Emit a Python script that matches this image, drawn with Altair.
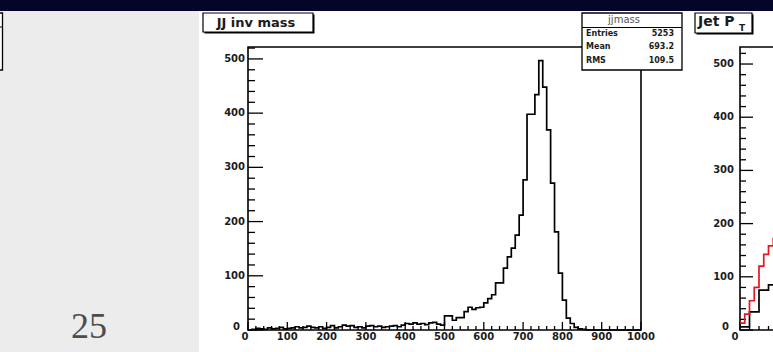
import altair as alt
import pandas as pd

# ---------------- data ----------------
# JJ invariant mass: 100 bins of width 10 on [0, 1000]
MASS_BIN = 10
mass_counts = [
    0, 1, 3, 2, 1, 4, 2, 3, 5, 2,
    3, 4, 6, 4, 5, 7, 5, 4, 6, 3,
    5, 8, 4, 6, 9, 7, 8, 5, 6, 4,
    7, 8, 6, 7, 5, 6, 7, 8, 6, 9,
    12, 11, 13, 11, 12, 10, 13, 14, 11, 9,
    26, 26, 18, 23, 23, 34, 42, 38, 41, 42,
    50, 58, 65, 87, 87, 114, 135, 151, 175, 212,
    277, 398, 398, 434, 497, 448, 369, 271, 181, 105,
    55, 22, 12, 5, 2, 1, 0, 0, 0, 0,
    0, 0, 0, 0, 0, 0, 0, 0, 0, 0,
]
mass_x_labels = [0, 100, 200, 300, 400, 500, 600, 700, 800, 900, 1000]
mass_y_labels = [0, 100, 200, 300, 400, 500]
MASS_XMAX = 1000
MASS_YMAX = 522

hist_name = "jjmass"
stat_names = ["Entries", "Mean", "RMS"]
stat_values = ["5253", "693.2", "109.5"]

# Jet pT: first bins of the two overlaid histograms
PT_RED_BIN = 5
PT_BLACK_BIN = 10
pt_red = [13, 30, 55, 80, 120, 142, 158, 172]
pt_black = [6, 34, 75, 85]
pt_x_labels = [0]
pt_y_labels = [0, 100, 200, 300, 400, 500]
PT_XMAX = 400
PT_YMAX = 532

slide_number = "25"

# ---------------- helpers ----------------
FONT = "DejaVu Sans"
INK = "#1c1c1c"
one = pd.DataFrame({"k": [0]})


def step_table(counts, width):
    xs = [i * width for i in range(len(counts))] + [len(counts) * width]
    ys = list(counts) + [counts[-1]]
    return pd.DataFrame({"edge": xs, "count": ys})


def rect(x0, x1, y0, y1, **kw):
    return alt.Chart(one).mark_rect(**kw).encode(
        x=alt.value(x0), x2=alt.value(x1), y=alt.value(y0), y2=alt.value(y1)
    )


def text(t, x, y, **kw):
    kw.setdefault("font", FONT)
    kw.setdefault("color", INK)
    return alt.Chart(one).mark_text(text=t, **kw).encode(x=alt.value(x), y=alt.value(y))


def hline(x0, x1, y, **kw):
    return alt.Chart(one).mark_rule(**kw).encode(
        x=alt.value(x0), x2=alt.value(x1), y=alt.value(y)
    )


label_style = dict(font=FONT, fontSize=10, fontWeight="bold", color=INK, baseline="middle")


def panel(xscale, yscale, x0px, tables, colors, ymax, xmax, x_labels, y_labels,
          ylab_right, x_minor, x_major, ytick=(15, 7), xtick=(8, 4),
          zero_y=(-5, -3), zero_x=-3):
    frame = alt.Chart(one).mark_rect(fillOpacity=0, stroke="black", strokeWidth=1.6).encode(
        x=alt.XDatum(0, scale=xscale, axis=None),
        x2=alt.X2Datum(xmax),
        y=alt.YDatum(0, scale=yscale, axis=None),
        y2=alt.Y2Datum(ymax),
    )
    yt = pd.DataFrame({"v": list(range(0, int(ymax) + 1, 20))})
    yt["major"] = yt["v"] % 100 == 0
    xt = pd.DataFrame({"v": list(range(0, int(xmax) + 1, x_minor))})
    xt["major"] = xt["v"] % x_major == 0

    layers = [frame]
    # inward ticks on both axes
    for is_major, length in [(True, ytick[0]), (False, ytick[1])]:
        layers.append(
            alt.Chart(yt[yt["major"] == is_major]).mark_rule(color="black", strokeWidth=1.3, clip=True).encode(
                y=alt.Y("v:Q", scale=yscale, axis=None),
                x=alt.value(x0px), x2=alt.value(x0px + length),
            )
        )
    for is_major, length in [(True, xtick[0]), (False, xtick[1])]:
        layers.append(
            alt.Chart(xt[xt["major"] == is_major]).mark_rule(color="black", strokeWidth=1.3, clip=True).encode(
                x=alt.X("v:Q", scale=xscale, axis=None),
                y=alt.value(330), y2=alt.value(330 - length),
            )
        )
    # tick labels; the two zeros sit apart at the corner
    ylab = pd.DataFrame({"v": [v for v in y_labels if v != 0]})
    layers.append(
        alt.Chart(ylab).mark_text(align="right", **label_style).encode(
            y=alt.Y("v:Q", scale=yscale, axis=None), x=alt.value(ylab_right), text="v:Q"
        )
    )
    layers.append(
        alt.Chart(pd.DataFrame({"v": [0]})).mark_text(
            align="right", dx=zero_y[0], dy=zero_y[1], **label_style
        ).encode(
            y=alt.Y("v:Q", scale=yscale, axis=None), x=alt.value(ylab_right), text="v:Q"
        )
    )
    xlab = pd.DataFrame({"v": [v for v in x_labels if v != 0]})
    if len(xlab):
        layers.append(
            alt.Chart(xlab).mark_text(align="center", **label_style).encode(
                x=alt.X("v:Q", scale=xscale, axis=None), y=alt.value(337), text="v:Q"
            )
        )
    layers.append(
        alt.Chart(pd.DataFrame({"v": [0]})).mark_text(align="center", dx=zero_x, **label_style).encode(
            x=alt.X("v:Q", scale=xscale, axis=None), y=alt.value(337), text="v:Q"
        )
    )
    for tbl, col in zip(tables, colors):
        layers.append(
            alt.Chart(tbl).mark_line(interpolate="step-after", color=col, strokeWidth=1.7, clip=True).encode(
                x=alt.X("edge:Q", scale=xscale, axis=None),
                y=alt.Y("count:Q", scale=yscale, axis=None),
            )
        )
    return alt.layer(*layers)


# ---------------- JJ invariant mass panel ----------------
XM = alt.Scale(domain=[0, MASS_XMAX], range=[248, 641], nice=False, zero=False)
YM = alt.Scale(domain=[0, MASS_YMAX], range=[330, 47], nice=False, zero=False)
mass_panel = panel(XM, YM, 248, [step_table(mass_counts, MASS_BIN)], ["black"],
                   MASS_YMAX, MASS_XMAX, mass_x_labels, mass_y_labels, ylab_right=245,
                   x_minor=20, x_major=100)

# ---------------- Jet pT panel ----------------
XP = alt.Scale(domain=[0, PT_XMAX], range=[740, 1120], nice=False, zero=False)
YP = alt.Scale(domain=[0, PT_YMAX], range=[330, 47], nice=False, zero=False)
pt_panel = panel(XP, YP, 740,
                 [step_table(pt_black, PT_BLACK_BIN), step_table(pt_red, PT_RED_BIN)],
                 ["black", "#e3171f"],
                 PT_YMAX, PT_XMAX, pt_x_labels, pt_y_labels, ylab_right=734,
                 x_minor=10, x_major=50, ytick=(13, 6), zero_y=(-5, -3), zero_x=-5)

# ---------------- page decoration ----------------
background = [
    rect(0, 199, 11, 352, color="#ececec"),
    rect(0, 773, 0, 11, color="#03052b"),
    rect(-4, 2.5, 13, 70, fill="white", stroke="black", strokeWidth=1.3),
    hline(0, 2.5, 27, color="black", strokeWidth=1),
]

boxes = [
    # title box with a thin drop shadow
    rect(204.5, 314.5, 14.5, 33.5, color="black"),
    rect(203, 313, 13, 32, fill="white", stroke="black", strokeWidth=1.2),
    text("JJ inv mass", 256, 23, fontSize=13, fontWeight="bold", baseline="middle", align="center"),
    # statistics box
    rect(582, 682, 13, 70, fill="white", stroke="black", strokeWidth=1.3),
    hline(582, 682, 27.5, color="black", strokeWidth=1.1),
    text(hist_name, 624, 20, fontSize=10, baseline="middle", align="center", color="#555"),
    # Jet pT title box
    rect(696.5, 753.5, 14.5, 34.5, color="black"),
    rect(695, 752, 13, 33, fill="white", stroke="black", strokeWidth=1.2),
    text("Jet P", 698, 22, fontSize=14, fontWeight="bold", baseline="middle", align="left"),
    text("T", 739, 28, fontSize=9, fontWeight="bold", baseline="middle", align="left"),
    # slide number
    text(slide_number, 89, 338, font="Liberation Serif", fontSize=36, color="#4d4d4d",
         baseline="alphabetic", align="center"),
]
for name, val, y in zip(stat_names, stat_values, [34, 47, 60.5]):
    boxes.append(text(name, 586, y, fontSize=8, fontWeight="bold", baseline="middle", align="left"))
    boxes.append(text(val, 674, y, fontSize=8, fontWeight="bold", baseline="middle", align="right"))

chart = (
    alt.layer(*background, mass_panel, pt_panel, *boxes)
    .resolve_scale(x="independent", y="independent")
    .properties(width=773, height=352, padding=0, background="white",
                autosize=alt.AutoSizeParams(type="none"))
    .configure_view(stroke="transparent")
)

chart.save("out.html", embed_options={"renderer": "svg", "actions": False})
